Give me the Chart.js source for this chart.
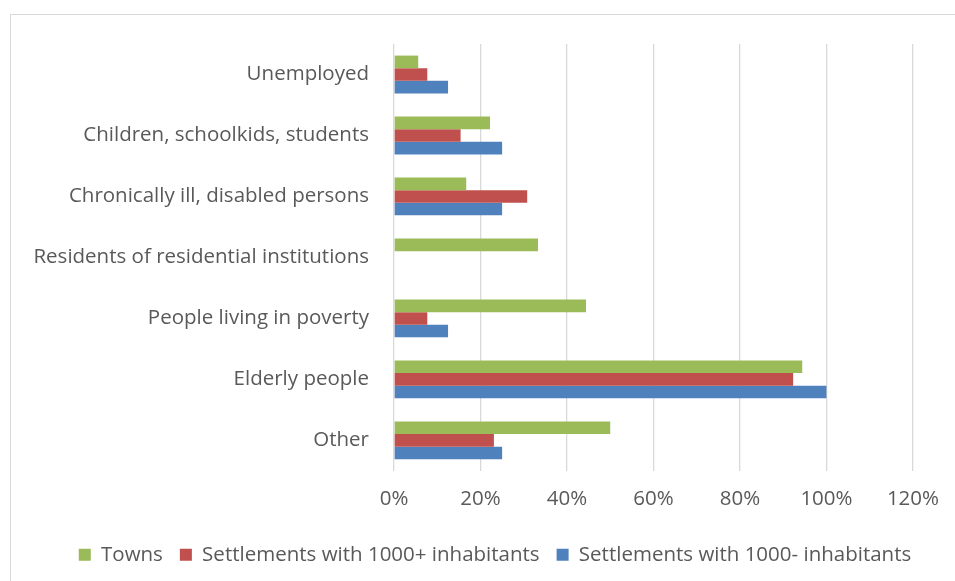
<!DOCTYPE html>
<html>
<head>
<meta charset="utf-8">
<script src="https://cdn.jsdelivr.net/npm/chart.js@4.4.0/dist/chart.umd.min.js"></script>
<style>
    body { margin: 0; background: #fff; }
    #frame { position: absolute; left: 10px; top: 14px; width: 960px; height: 600px; border: 1px solid #d9d9d9; }
    #wrap { position: absolute; left: 0; top: 0; width: 955px; height: 581px; }
</style>
</head>
<body>
<div id="frame"></div>
<div id="wrap"><canvas id="chartGroups"></canvas></div>
<script>
    // categories, top to bottom
    var groupLabels = ['Unemployed', 'Children, schoolkids, students', 'Chronically ill, disabled persons',
        'Residents of residential institutions', 'People living in poverty', 'Elderly people', 'Other'];

    // percent values per series
    var towns = [5.6, 22.2, 16.7, 33.3, 44.4, 94.4, 50.0];
    var settlementsOver = [7.7, 15.4, 30.8, 0, 7.7, 92.3, 23.1];
    var settlementsUnder = [12.5, 25.0, 25.0, 0, 12.5, 100.0, 25.0];

    var seriesNames = ['Towns', 'Settlements with 1000+ inhabitants', 'Settlements with 1000- inhabitants'];
    var xTicks = [0, 20, 40, 60, 80, 100, 120];

    var arrColor = ['#9BBB59', '#C0504D', '#4F81BD'];
    var arrData = [towns, settlementsOver, settlementsUnder];

    let objDatasets = [];
    for (let h = 0; h < seriesNames.length; h++) {
        objDatasets.push({
            label: seriesNames[h],
            data: arrData[h],
            backgroundColor: arrColor[h],
            borderWidth: 0,
            barPercentage: 1,
            categoryPercentage: 0.62
        });
    }

    // move the legend a bit right, like the original
    const legendShift = {
        id: 'legendShift',
        afterLayout: function (chart) {
            chart.legend.left += 28;
            chart.legend.right += 28;
        }
    };

    const txtFont = { family: 'Open Sans', size: 20.5 };

    let ctx = document.getElementById('chartGroups').getContext('2d');
    let groupChart = new Chart(ctx, {
        type: 'bar',
        data: {
            labels: groupLabels,
            datasets: objDatasets
        },
        plugins: [legendShift],
        options: {
            indexAxis: 'y',
            responsive: true,
            maintainAspectRatio: false,
            animation: false,
            layout: {
                padding: { left: 20, right: 41, top: 44, bottom: 6 }
            },
            plugins: {
                legend: {
                    display: true,
                    position: 'bottom',
                    labels: {
                        boxWidth: 12,
                        boxHeight: 12,
                        padding: 17,
                        color: '#595959',
                        font: txtFont
                    }
                },
                tooltip: { enabled: false }
            },
            scales: {
                x: {
                    min: 0,
                    max: 120,
                    afterBuildTicks: function (scale) {
                        scale.ticks = xTicks.map(v => ({ value: v }));
                    },
                    ticks: {
                        color: '#595959',
                        font: txtFont,
                        padding: 16,
                        callback: function (v) { return v + '%'; }
                    },
                    border: { display: false },
                    grid: {
                        color: '#d9d9d9',
                        lineWidth: 1.3,
                        drawTicks: false
                    }
                },
                y: {
                    afterFit: function (scale) { scale.width = 374; },
                    ticks: {
                        color: '#595959',
                        font: txtFont,
                        padding: 17
                    },
                    border: { display: false },
                    grid: { display: false }
                }
            }
        }
    });
</script>
</body>
</html>
